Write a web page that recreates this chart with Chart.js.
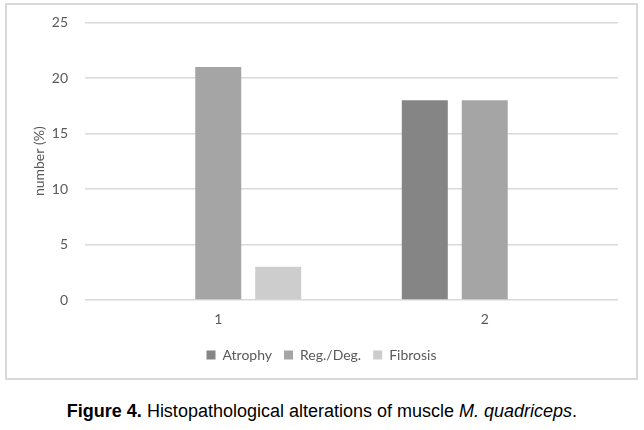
<!DOCTYPE html>
<html>
<head>
<meta charset="utf-8">
<script src="https://cdn.jsdelivr.net/npm/chart.js@4"></script>
<style>
    body { margin: 0; background: #fff; width: 644px; height: 430px; position: relative; overflow: hidden; }
    #frame {
        position: absolute; left: 5px; top: 3px; width: 629px; height: 373px;
        border: 2px solid #d9d9d9;
    }
    #frame canvas { display: block; }
    #caption {
        position: absolute; left: 0; top: 401px; width: 644px; text-align: center;
        font-family: "Liberation Sans Narrow", "Liberation Sans", sans-serif;
        font-size: 18px; color: #000;
    }
</style>
</head>
<body>
<div id="frame"><canvas id="muscleChart" width="629" height="373"></canvas></div>
<div id="caption"><b>Figure 4.</b> Histopathological alterations of muscle <i>M. quadriceps</i>.</div>
<script>
// values
const categories = ['1', '2'];
const atrophy = [0, 18];
const regDeg = [21, 18];
const fibrosis = [3, 0];
const yTicks = [0, 5, 10, 15, 20, 25];

const textColor = '#595959';
const font = { family: 'Lato, "Open Sans", sans-serif', size: 14 };

const ctx = document.getElementById('muscleChart').getContext('2d');
new Chart(ctx, {
    type: 'bar',
    data: {
        labels: categories,
        datasets: [{
            label: 'Atrophy',
            data: atrophy,
            backgroundColor: '#858585'
        }, {
            label: 'Reg./Deg.',
            data: regDeg,
            backgroundColor: '#a5a5a5'
        }, {
            label: 'Fibrosis',
            data: fibrosis,
            backgroundColor: '#cdcdcd'
        }]
    },
    options: {
        responsive: false,
        animation: false,
        categoryPercentage: 0.675,
        barPercentage: 0.767,
        layout: { padding: { top: 17.5, right: 18, bottom: 6, left: 18 } },
        plugins: {
            legend: {
                position: 'bottom',
                labels: {
                    boxWidth: 9,
                    boxHeight: 9,
                    padding: 12,
                    color: textColor,
                    font: font
                }
            },
            tooltip: { enabled: false }
        },
        scales: {
            x: {
                grid: { display: false, drawTicks: false },
                border: { display: false },
                ticks: { color: textColor, font: font, padding: 11 },
                afterFit: (scale) => { scale.height = 36; }
            },
            y: {
                min: 0,
                max: 25,
                afterBuildTicks: (scale) => {
                    scale.ticks = yTicks.map(v => ({ value: v }));
                },
                grid: { color: '#d9d9d9', lineWidth: 1.5, drawTicks: false },
                border: { display: false },
                ticks: { color: textColor, font: font, padding: 17 },
                title: {
                    display: true,
                    text: 'number (%)',
                    color: textColor,
                    font: font,
                    padding: { top: 6, bottom: 0 }
                },
                afterFit: (scale) => {
                    scale.width = 60;
                    // let layout padding alone decide where the plot starts
                    scale.paddingTop = 0;
                    scale.paddingBottom = 0;
                }
            }
        }
    }
});
</script>
</body>
</html>
